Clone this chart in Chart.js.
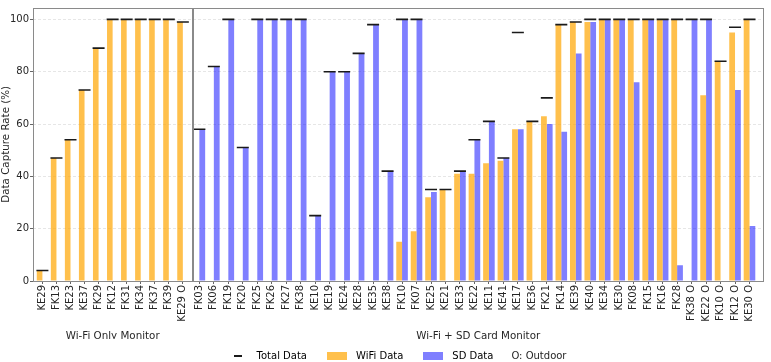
<!DOCTYPE html>
<html>
<head>
<meta charset="utf-8">
<script src="https://cdn.jsdelivr.net/npm/chart.js@4.4.0/dist/chart.umd.min.js"></script>
<style>
  html, body { margin: 0; padding: 0; background: #fff; overflow: hidden; }
  #wrap { position: relative; width: 771px; height: 362px; overflow: hidden; }
  #wrap canvas { position: absolute; top: 0; }
  #chart-sd-card { left: -52px; }
  #chart-wifi-only { left: 0; }
</style>
</head>
<body>
<div id="wrap">
  <canvas id="chart-sd-card" width="823" height="362"></canvas>
  <canvas id="chart-wifi-only" width="200" height="339"></canvas>
</div>
<script>
// Wi-Fi only monitors
const wifiOnlySites = ['KE29', 'FK13', 'KE23', 'KE37', 'FK29', 'FK12', 'FK31', 'FK34', 'FK37', 'FK39', 'KE29 O'];
const wifiOnlyWifi = [4, 47, 54, 73, 89, 100, 100, 100, 100, 100, 99];
const wifiOnlySd = [null, null, null, null, null, null, null, null, null, null, null];
const wifiOnlyTotal = [4, 47, 54, 73, 89, 100, 100, 100, 100, 100, 99];

// Wi-Fi + SD card monitors
const sdSites = ['FK03', 'FK06', 'FK19', 'FK20', 'FK25', 'FK26', 'FK27', 'FK38', 'KE10', 'KE19',
  'KE24', 'KE28', 'KE35', 'KE38', 'FK10', 'FK07', 'KE25', 'KE21', 'KE33', 'KE22',
  'KE11', 'KE41', 'KE17', 'KE36', 'FK21', 'FK14', 'KE39', 'KE40', 'KE34', 'KE30',
  'FK08', 'FK15', 'FK16', 'FK28', 'FK38 O', 'KE22 O', 'FK10 O', 'FK12 O', 'KE30 O'];
const sdWifi = [null, null, null, null, null, null, null, null, null, null,
  null, null, null, null, 15, 19, 32, 35, 41, 41,
  45, 46, 58, 61, 63, 98, 99, 99, 100, 100,
  100, 100, 100, 100, null, 71, 84, 95, 100];
const sdSd = [58, 82, 100, 51, 100, 100, 100, 100, 25, 80,
  80, 87, 98, 42, 100, 100, 34, null, 42, 54,
  61, 47, 58, null, 60, 57, 87, 99, 100, 100,
  76, 100, 100, 6, 100, 100, null, 73, 21];
const sdTotal = [58, 82, 100, 51, 100, 100, 100, 100, 25, 80,
  80, 87, 98, 42, 100, 100, 35, 35, 42, 54,
  61, 47, 95, 61, 70, 98, 99, 100, 100, 100,
  100, 100, 100, 100, 100, 100, 84, 97, 100];

const yTicks = [0, 20, 40, 60, 80, 100];
const outdoorNote = 'O: Outdoor';

const fontFamily = '"DejaVu Sans", sans-serif';
const textColor = '#262626';
const wifiColor = 'rgba(255, 165, 0, 0.7)';
const sdColor = 'rgba(0, 0, 255, 0.5)';
const gridColor = '#e6e6e6';

const points = vals => vals.map((v, i) => ({ x: i, y: v }));

function buildDatasets(wifi, sd, total) {
  return [
    {
      type: 'line',
      label: 'Total Data',
      data: points(total),
      showLine: false,
      pointStyle: 'line',
      pointRadius: 6,
      pointHoverRadius: 6,
      borderColor: '#1a1a1a',
      pointBorderWidth: 1.6,
      backgroundColor: '#1a1a1a'
    },
    {
      label: 'WiFi Data',
      data: points(wifi),
      backgroundColor: wifiColor,
      borderWidth: 0,
      categoryPercentage: 0.8,
      barPercentage: 1.0
    },
    {
      label: 'SD Data',
      data: points(sd),
      backgroundColor: sdColor,
      borderWidth: 0,
      categoryPercentage: 0.8,
      barPercentage: 1.0
    }
  ];
}

// panel frame (matplotlib spines)
const framePlugin = {
  id: 'frame',
  afterDatasetsDraw(chart) {
    const { ctx, chartArea } = chart;
    ctx.save();
    ctx.strokeStyle = '#8a8a8a';
    ctx.lineWidth = 1;
    ctx.strokeRect(Math.round(chartArea.left) + 0.5, Math.round(chartArea.top) + 0.5,
      Math.round(chartArea.width), Math.round(chartArea.height));
    ctx.restore();
  }
};

// the "O: Outdoor" note sits after the last legend entry
const outdoorNotePlugin = {
  id: 'outdoorNote',
  afterDraw(chart) {
    const boxes = chart.legend && chart.legend.legendHitBoxes;
    if (!boxes || !boxes.length) return;
    const last = boxes[boxes.length - 1];
    const ctx = chart.ctx;
    ctx.save();
    ctx.fillStyle = textColor;
    ctx.font = '10px ' + fontFamily;
    ctx.textBaseline = 'middle';
    ctx.textAlign = 'left';
    ctx.fillText(outdoorNote, last.left + last.width + 18, last.top + last.height / 2);
    ctx.restore();
  }
};

function xScale(labels, min, max, title, height, titlePad) {
  return {
    type: 'linear',
    min: min,
    max: max,
    offset: false,
    afterBuildTicks: scale => { scale.ticks = labels.map((_, i) => ({ value: i })); },
    afterFit: scale => { scale.height = height; },
    ticks: {
      autoSkip: false,
      minRotation: 90,
      maxRotation: 90,
      padding: 1,
      color: textColor,
      font: { family: fontFamily, size: 10 },
      callback: value => labels[value]
    },
    grid: { offset: false, drawOnChartArea: false, drawTicks: true, tickLength: 3, color: '#666' },
    border: { display: false },
    title: {
      display: true,
      text: title,
      color: textColor,
      font: { family: fontFamily, size: 10.3 },
      padding: { top: 0, bottom: titlePad }
    }
  };
}

// legend icons
function legendIcon(w, h, color) {
  const c = document.createElement('canvas');
  c.width = w;
  c.height = h;
  const g = c.getContext('2d');
  g.fillStyle = color;
  g.fillRect(0, 0, w, h);
  return c;
}

Chart.defaults.animation = false;

// right panel (also carries the legend)
new Chart(document.getElementById('chart-sd-card'), {
  type: 'bar',
  data: { datasets: buildDatasets(sdWifi, sdSd, sdTotal) },
  options: {
    responsive: false,
    layout: { padding: { left: 0, right: 2, top: 2, bottom: 0 } },
    scales: {
      x: xScale(sdSites, -0.44, 38.96, 'Wi-Fi + SD Card Monitor', 54, -7.2),
      y: {
        min: 0,
        max: 104.5,
        afterFit: scale => { scale.width = 245; },
        afterBuildTicks: scale => { scale.ticks = yTicks.map(v => ({ value: v })); },
        ticks: { display: false },
        grid: { color: gridColor, drawTicks: false },
        border: { display: false, dash: [3, 2] }
      }
    },
    plugins: {
      tooltip: { enabled: false },
      legend: {
        position: 'bottom',
        maxHeight: 27,
        labels: {
          usePointStyle: true,
          pointStyleWidth: 28,
          boxHeight: 8,
          padding: 16,
          color: textColor,
          font: { family: fontFamily, size: 10 },
          generateLabels: () => [
            { text: 'Total Data', pointStyle: legendIcon(8, 2, '#1a1a1a'), fillStyle: '#000', strokeStyle: '#000', lineWidth: 0, datasetIndex: 0, hidden: false },
            { text: 'WiFi Data', pointStyle: legendIcon(20, 8, wifiColor), fillStyle: wifiColor, strokeStyle: wifiColor, lineWidth: 0, datasetIndex: 1, hidden: false },
            { text: 'SD Data', pointStyle: legendIcon(20, 8, sdColor), fillStyle: sdColor, strokeStyle: sdColor, lineWidth: 0, datasetIndex: 2, hidden: false }
          ]
        }
      }
    }
  },
  plugins: [framePlugin, outdoorNotePlugin]
});

// left panel
new Chart(document.getElementById('chart-wifi-only'), {
  type: 'bar',
  data: { datasets: buildDatasets(wifiOnlyWifi, wifiOnlySd, wifiOnlyTotal) },
  options: {
    responsive: false,
    layout: { padding: { left: 0, right: 7, top: 2, bottom: 0 } },
    scales: {
      x: xScale(wifiOnlySites, -0.67, 10.68, 'Wi-Fi Only Monitor', 58, -3.2),
      y: {
        min: 0,
        max: 104.5,
        afterFit: scale => { scale.width = 33; },
        afterBuildTicks: scale => { scale.ticks = yTicks.map(v => ({ value: v })); },
        ticks: { padding: 1, color: textColor, font: { family: fontFamily, size: 10 } },
        grid: { color: gridColor, drawTicks: true, tickLength: 3, tickColor: '#666' },
        border: { display: false, dash: [3, 2] },
        title: {
          display: true,
          text: 'Data Capture Rate (%)',
          color: textColor,
          font: { family: fontFamily, size: 10.3 },
          padding: { top: 0, bottom: 0 }
        }
      }
    },
    plugins: {
      tooltip: { enabled: false },
      legend: { display: false }
    }
  },
  plugins: [framePlugin]
});
</script>
</body>
</html>
